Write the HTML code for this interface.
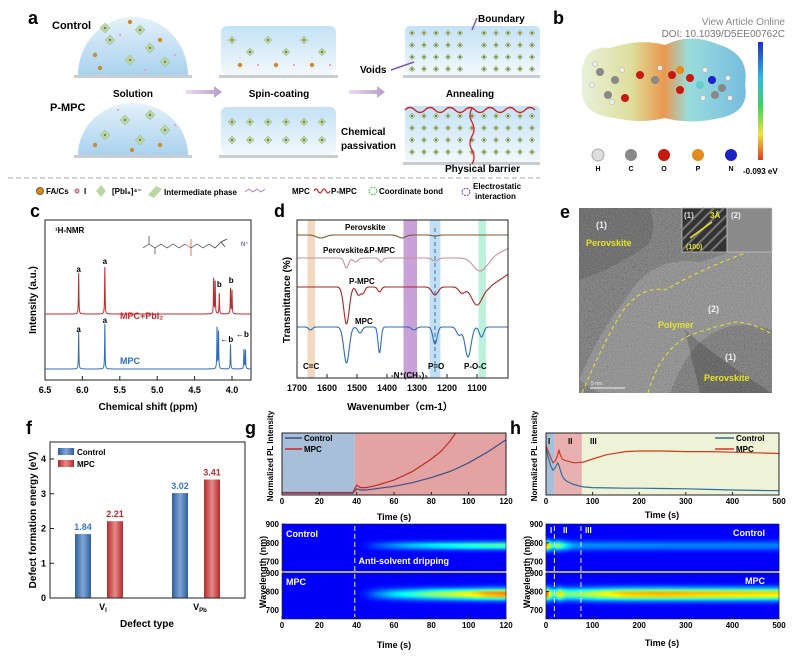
<!DOCTYPE html>
<html><head><meta charset="utf-8"><style>
body{margin:0;background:#fff;width:795px;height:657px;overflow:hidden}
svg text{font-family:"Liberation Sans",Arial,sans-serif}
.b{font-weight:bold}
</style></head><body>
<svg id="fig" width="795" height="657" viewBox="0 0 795 657" xmlns="http://www.w3.org/2000/svg">
<defs>
<linearGradient id="dome" x1="0" y1="0" x2="0" y2="1"><stop offset="0" stop-color="#e4f1fa"/><stop offset="1" stop-color="#a9d2ee"/></linearGradient>
<linearGradient id="film" x1="0" y1="0" x2="0" y2="1"><stop offset="0" stop-color="#c4e2f5"/><stop offset="1" stop-color="#f2f8fc"/></linearGradient>
<linearGradient id="arrowg" x1="0" y1="0" x2="1" y2="0"><stop offset="0" stop-color="#e8dcef"/><stop offset="1" stop-color="#b79cc9"/></linearGradient>
<linearGradient id="cbar" x1="0" y1="0" x2="0" y2="1"><stop offset="0" stop-color="#1b2bd0"/><stop offset="0.3" stop-color="#2fb8e8"/><stop offset="0.55" stop-color="#3fd65a"/><stop offset="0.78" stop-color="#f0e040"/><stop offset="1" stop-color="#e43a1e"/></linearGradient>
<linearGradient id="surfx" x1="0" y1="0" x2="1" y2="0"><stop offset="0" stop-color="#e4eed5"/><stop offset="0.3" stop-color="#d8d98a"/><stop offset="0.5" stop-color="#e6862f"/><stop offset="0.65" stop-color="#86d6d6"/><stop offset="1" stop-color="#5fb0d8"/></linearGradient>
<linearGradient id="barBlue" x1="0" y1="0" x2="1" y2="0"><stop offset="0" stop-color="#2e5e9e"/><stop offset="0.5" stop-color="#7fa6d4"/><stop offset="1" stop-color="#2e5e9e"/></linearGradient>
<linearGradient id="barRed" x1="0" y1="0" x2="1" y2="0"><stop offset="0" stop-color="#b52a2a"/><stop offset="0.5" stop-color="#e58a8a"/><stop offset="1" stop-color="#b52a2a"/></linearGradient>
<filter id="gnoise"><feTurbulence type="fractalNoise" baseFrequency="0.7" numOctaves="2" seed="7" result="t"/><feColorMatrix in="t" type="matrix" values="0.33 0.33 0.33 0 0  0.33 0.33 0.33 0 0  0.33 0.33 0.33 0 0  0 0 0 0 1"/></filter>
<clipPath id="clipG"><rect x="282" y="433" width="224" height="62"/></clipPath>
<clipPath id="clipE"><rect x="579" y="208" width="193" height="185"/></clipPath>
</defs>

<g>
<text x="28" y="24" font-size="18" class="b">a</text>
<text x="52" y="29" font-size="11" class="b">Control</text>
<text x="50" y="111" font-size="11" class="b">P-MPC</text>
<path d="M78 75 A55 58 0 0 1 188 75 Z" fill="url(#dome)"/>
<rect x="74" y="75" width="118" height="3" fill="#c8cdd2"/>
<path d="M78 155 A55 52 0 0 1 188 155 Z" fill="url(#dome)"/>
<rect x="74" y="155" width="118" height="3" fill="#c8cdd2"/>
<text x="133" y="97" font-size="10" class="b" text-anchor="middle">Solution</text>
<rect x="221" y="26" width="115" height="49" rx="6" fill="url(#film)"/>
<rect x="219" y="75" width="119" height="3" fill="#c8cdd2"/>
<rect x="221" y="107" width="115" height="48" rx="6" fill="url(#film)"/>
<rect x="219" y="155" width="119" height="3" fill="#c8cdd2"/>
<text x="279" y="97" font-size="10" class="b" text-anchor="middle">Spin-coating</text>
<path d="M186 90 h28 v-4 l8 6 l-8 6 v-4 h-28 Z" fill="url(#arrowg)"/>
<path d="M349 90 h28 v-4 l8 6 l-8 6 v-4 h-28 Z" fill="url(#arrowg)"/>
<rect x="405" y="26" width="135" height="49" rx="5" fill="url(#film)"/>
<rect x="403" y="75" width="137" height="3" fill="#c8cdd2"/>
<rect x="405" y="106" width="135" height="56" rx="4" fill="url(#film)"/>
<rect x="403" y="162" width="137" height="3" fill="#c8cdd2"/>
<text x="470" y="97" font-size="10" class="b" text-anchor="middle">Annealing</text>
<text x="478" y="22" font-size="10" class="b">Boundary</text>
<path d="M472 30 L477 18" stroke="#7b58b0" stroke-width="1.5"/>
<text x="360" y="73" font-size="10" class="b">Voids</text>
<path d="M391 70 L414 62" stroke="#7b58b0" stroke-width="1.5"/>
<text x="341" y="135" font-size="10" class="b">Chemical</text>
<text x="341" y="149" font-size="10" class="b">passivation</text>
<text x="445" y="172" font-size="10" class="b">Physical barrier</text>
<g id="aDeco"></g>
<line x1="8" y1="178" x2="540" y2="178" stroke="#aaa" stroke-dasharray="5 3"/>
<g font-size="8" class="b">
<circle cx="40" cy="191" r="3.5" fill="#d08a2c" stroke="#8a5a1a"/>
<text x="46" y="194">FA/Cs</text>
<circle cx="77" cy="191" r="2" fill="#e7b0c0" stroke="#c05070"/>
<text x="84" y="194">I</text>
<path d="M96 191 l5 -6 l5 6 l-5 6 Z" fill="#b9d7a2"/>
<text x="112" y="194">[PbI₆]⁴⁻</text>
<path d="M148 195 l8 -9 l6 3 l-8 9 Z" fill="#b9d7a2"/>
<text x="164" y="195">Intermediate phase</text>
<path d="M245 192 l4 -3 l4 3 l4 -3 l4 3 l4 -3" stroke="#a58" fill="none" stroke-width="0.7"/>
<text x="292" y="194">MPC</text>
<path d="M314 191 q2 -4 4 0 q2 4 4 0 q2 -4 4 0 q2 4 4 0" stroke="#d22" fill="none" stroke-width="1.2"/>
<text x="331" y="194">P-MPC</text>
<ellipse cx="373" cy="191" rx="4" ry="3.5" fill="none" stroke="#3c3" stroke-dasharray="2 1"/>
<text x="379" y="194">Coordinate bond</text>
<ellipse cx="466" cy="192" rx="4" ry="3.5" fill="none" stroke="#63c" stroke-dasharray="2 1"/>
<text x="473" y="189">Electrostatic</text>
<text x="475" y="199">interaction</text>
</g>
</g>

<g>
<text x="553" y="24" font-size="18" class="b">b</text>
<text x="785" y="25" font-size="10" fill="#888" text-anchor="end">View Article Online</text>
<text x="785" y="37" font-size="10" fill="#777" text-anchor="end">DOI: 10.1039/D5EE00762C</text>
<path d="M582 70 Q585 45 610 48 Q640 38 665 45 Q690 32 720 45 Q750 55 745 85 Q750 112 720 118 Q690 125 665 118 Q640 124 615 118 Q585 115 582 95 Z" fill="url(#surfx)" opacity="0.85"/>
<g id="bAtoms"></g>
<rect x="758" y="42" width="5" height="118" fill="url(#cbar)"/>
<text x="743" y="174" font-size="8" font-family="Liberation Serif" class="b">-0.093 eV</text>
<g font-size="7" font-family="Liberation Serif" class="b" text-anchor="middle">
<circle cx="598" cy="155" r="6" fill="#ddd" stroke="#aaa"/><text x="598" y="171">H</text>
<circle cx="631" cy="155" r="6" fill="#888"/><text x="631" y="171">C</text>
<circle cx="664" cy="155" r="6" fill="#c8190f"/><text x="664" y="171">O</text>
<circle cx="698" cy="155" r="6" fill="#e58a1d"/><text x="698" y="171">P</text>
<circle cx="731" cy="155" r="6" fill="#1a22c8"/><text x="731" y="171">N</text>
</g>
</g>

<g>
<text x="30" y="217" font-size="18" class="b">c</text>
<rect x="45" y="220" width="206" height="160" fill="none" stroke="#222"/>
<g id="cPlot"></g>
<text x="55" y="233" font-size="8" class="b">¹H-NMR</text>
<g stroke="#333" fill="none" stroke-width="0.7">
<path d="M143 248 l6 -4 l0 -8 M149 244 l6 4 l0 6 M155 248 l6 -4 l6 4 l6 -4 l6 4 l6 -4"/>
<path d="M185 244 l6 4" stroke="#e33"/><path d="M191 248 l0 -9 M191 248 l0 8" stroke="#e33"/>
<path d="M191 248 l6 -4 l6 4 l6 -4 l6 4 l6 -6 M221 242 l6 -3 M221 242 l4 5" />
</g>
<text x="241" y="246" font-size="6" fill="#22a">N⁺</text>
<text x="120" y="319" font-size="9" class="b" fill="#c0282a">MPC+PbI₂</text>
<text x="120" y="364" font-size="9" class="b" fill="#2f6db5">MPC</text>
<text x="148" y="410" font-size="10" class="b" text-anchor="middle">Chemical shift (ppm)</text>
<text x="0" y="0" font-size="10" class="b" text-anchor="middle" transform="translate(36 300) rotate(-90)">Intensity (a.u.)</text>
</g>

<g>
<text x="274" y="217" font-size="18" class="b">d</text>
<g id="dPlot"></g>
<rect x="297" y="220" width="211" height="158" fill="none" stroke="#222"/>
<text x="400" y="410" font-size="10" class="b" text-anchor="middle">Wavenumber（cm-1）</text>
<text x="0" y="0" font-size="10" class="b" text-anchor="middle" transform="translate(290 300) rotate(-90)">Transmittance (%)</text>
<g font-size="8" class="b">
<text x="345" y="230">Perovskite</text>
<text x="323" y="253">Perovskite&amp;P-MPC</text>
<text x="349" y="284">P-MPC</text>
<text x="355" y="324">MPC</text>
<text x="303" y="369">C=C</text>
<text x="391" y="378">-N⁺(CH₃)₃</text>
<text x="428" y="369">P=O</text>
<text x="464" y="369">P-O-C</text>
</g>
</g>

<g>
<text x="560" y="218" font-size="18" class="b">e</text>
<g clip-path="url(#clipE)">
<rect x="579" y="208" width="193" height="185" fill="#3c3c3c" />
<rect x="579" y="208" width="193" height="185" filter="url(#gnoise)" opacity="0.55"/>
<path d="M579 380 Q600 330 625 300 Q650 255 700 262 Q740 250 772 235 L772 330 Q740 320 720 330 Q690 340 670 393 L600 393 Z" fill="#fff" opacity="0.15"/>
<path d="M579 208 L650 208 Q660 240 640 250 Q610 270 579 280 Z" fill="#000" opacity="0.12"/>
<path d="M685 330 Q720 360 772 393 L700 393 Z" fill="#000" opacity="0.18"/>
</g>
<path d="M582 393 Q600 350 620 315 Q640 285 665 290 Q700 270 740 255 Q760 245 772 240" fill="none" stroke="#e8e32a" stroke-width="1" stroke-dasharray="4 3"/>
<path d="M648 393 Q660 350 690 335 Q720 325 735 322 Q750 322 770 333" fill="none" stroke="#e8e32a" stroke-width="1" stroke-dasharray="4 3"/>
<rect x="682" y="208" width="45" height="44" fill="#333" stroke="#ccc" stroke-width="0.7"/>
<g stroke="#777" stroke-width="2">
<path d="M682 230 L704 208 M682 240 L714 208 M682 250 L724 208 M690 252 L727 215 M700 252 L727 225 M710 252 L727 235"/>
</g>
<path d="M690 238 L712 222" stroke="#e8e32a" stroke-width="1.5"/>
<rect x="727" y="208" width="45" height="44" fill="#8a8a8a" stroke="#ccc" stroke-width="0.7"/>
<g font-size="8" class="b">
<text x="684" y="218" fill="#ddd">(1)</text>
<text x="710" y="218" fill="#e8e32a">3Å</text>
<text x="686" y="249" fill="#e8e32a" font-size="7">(100)</text>
<text x="731" y="218" fill="#eee">(2)</text>
<text x="596" y="228" fill="#eee" font-size="9">(1)</text>
<text x="586" y="246" fill="#e8e32a" font-size="9">Perovskite</text>
<text x="708" y="312" fill="#eee" font-size="9">(2)</text>
<text x="658" y="328" fill="#e8e32a" font-size="9">Polymer</text>
<text x="725" y="360" fill="#eee" font-size="9">(1)</text>
<text x="704" y="381" fill="#e8e32a" font-size="9">Perovskite</text>
</g>
<line x1="590" y1="388" x2="625" y2="388" stroke="#eee" stroke-width="1"/>
<text x="591" y="385" font-size="5" fill="#eee">5 nm</text>
</g>

<g>
<text x="26" y="434" font-size="18" class="b">f</text>
<g id="fPlot"></g>
<rect x="50" y="442" width="195" height="156" fill="none" stroke="#222"/>
<rect x="58" y="448" width="16" height="7" fill="url(#barBlue)"/>
<text x="77" y="455" font-size="8" class="b">Control</text>
<rect x="58" y="460" width="16" height="7" fill="url(#barRed)"/>
<text x="77" y="467" font-size="8" class="b">MPC</text>
<text x="147" y="627" font-size="10" class="b" text-anchor="middle">Defect type</text>
<text x="0" y="0" font-size="10" class="b" text-anchor="middle" transform="translate(36 520) rotate(-90)">Defect formation energy (eV)</text>
</g>

<g>
<text x="245" y="434" font-size="18" class="b">g</text>
<g id="gPlot"></g>
<text x="394" y="520" font-size="9" class="b" text-anchor="middle">Time (s)</text>
<text x="394" y="648" font-size="9" class="b" text-anchor="middle">Time (s)</text>
<text x="0" y="0" font-size="8" class="b" text-anchor="middle" transform="translate(273 456) rotate(-90)">Normalized PL Intensity</text>
<text x="0" y="0" font-size="9" class="b" text-anchor="middle" transform="translate(266 572) rotate(-90)">Wavelength (nm)</text>
</g>

<g>
<text x="510" y="434" font-size="18" class="b">h</text>
<g id="hPlot"></g>
<text x="662" y="518" font-size="9" class="b" text-anchor="middle">Time (s)</text>
<text x="662" y="646" font-size="9" class="b" text-anchor="middle">Time (s)</text>
<text x="0" y="0" font-size="8" class="b" text-anchor="middle" transform="translate(537 456) rotate(-90)">Normalized PL intensity</text>
<text x="0" y="0" font-size="9" class="b" text-anchor="middle" transform="translate(530 572) rotate(-90)">Wavelength (nm)</text>
</g>
</svg>
<script>
// c: NMR peaks
var nmrRedPos=[6.05,5.70,4.245,4.225,4.17,4.02,4.00];
var nmrRedH=[4.1,4.8,3.6,3.3,2.1,2.6,2.4];
var nmrBluePos=[6.05,5.70,4.20,4.18,4.02,3.84,3.82];
var nmrBlueH=[3.8,4.6,4.2,3.8,2.5,2.0,1.9];
var nmrTicks=[6.5,6.0,5.5,5.0,4.5,4.0];
// d: FTIR dips
var irPerovPos=[1620,1350,1240];
var irPerovDepth=[0.3,0.3,0.1];
var irPerovW=[15,12,10];
var irPPPos=[1535,1505,1420,1240,1090];
var irPPDepth=[1.0,0.4,0.4,0.3,1.3];
var irPPW=[7,8,6,10,22];
var irPMPCPos=[1535,1495,1480,1425,1240,1150,1100];
var irPMPCDepth=[3.7,0.8,0.6,0.5,0.8,0.6,1.8];
var irPMPCW=[9,7,6,6,10,10,18];
var irMPCPos=[1655,1535,1490,1425,1310,1240,1160,1130,1085];
var irMPCDepth=[0.3,3.6,0.6,2.6,0.3,1.7,0.8,3.0,1.0];
var irMPCW=[6,9,7,5,8,7,8,10,7];
var irTicks=[1700,1600,1500,1400,1300,1200,1100];
// f: bars
var defectCats=["V_I","V_Pb"];
var controlE=[1.84,3.02];
var mpcE=[2.21,3.41];
var fTicks=[0,1,2,3,4];
// g
var gTime=[0,10,20,30,38,40,42,45,50,60,70,80,85,90,93,100,110,120];
var gCtrlPL=[0.03,0.03,0.03,0.03,0.03,0.10,0.08,0.08,0.10,0.14,0.20,0.28,0.33,0.38,0.42,0.52,0.69,0.89];
var gMpcPL=[0.04,0.04,0.04,0.04,0.04,0.16,0.12,0.12,0.15,0.24,0.38,0.58,0.70,0.87,1.0,1.3,1.6,1.9];
var gMapTime=[0,40,45,50,60,70,80,90,100,110,120];
var gMapCtrl=[0,0,0.03,0.1,0.2,0.28,0.33,0.38,0.42,0.45,0.47];
var gMapMpc=[0,0,0.05,0.15,0.3,0.4,0.52,0.6,0.68,0.8,0.85];
var gTicks=[0,20,40,60,80,100,120];
// h
var hTime=[0,5,10,15,20,25,28,30,35,40,45,60,80,100,130,170,200,250,300,350,400,450,500];
var hCtrlPL=[0.77,0.60,0.47,0.40,0.44,0.52,0.48,0.42,0.30,0.25,0.22,0.17,0.13,0.12,0.115,0.11,0.11,0.105,0.10,0.09,0.08,0.075,0.07];
var hMpcPL=[0.80,0.70,0.60,0.52,0.55,0.64,0.73,0.66,0.58,0.56,0.55,0.52,0.53,0.58,0.65,0.70,0.71,0.71,0.70,0.70,0.69,0.68,0.67];
var hMapTime=[0,5,10,18,25,30,35,45,60,80,120,170,250,350,500];
var hMapCtrl=[0.85,0.78,0.55,0.4,0.55,0.52,0.45,0.32,0.22,0.2,0.19,0.19,0.18,0.18,0.18];
var hMapMpc=[0.9,0.85,0.6,0.45,0.55,0.8,0.6,0.5,0.5,0.55,0.65,0.75,0.78,0.75,0.72];
var hTicks=[0,100,200,300,400,500];
var hRegions=[0,18,77,500];

var FIG=document.getElementById('fig');
var SVGNS=FIG.namespaceURI;
var DEFS=FIG.getElementsByTagName('defs')[0];
var gradId=0;
function mk(tag,attrs,par){var e=document.createElementNS(SVGNS,tag);for(var k in attrs){e.setAttribute(k,attrs[k]);}(par||FIG).appendChild(e);return e;}
function interp(xs,ys,x){if(x<=xs[0])return ys[0];for(var i=1;i<xs.length;i++){if(x<=xs[i]){var f=(x-xs[i-1])/(xs[i]-xs[i-1]);return ys[i-1]+f*(ys[i]-ys[i-1]);}}return ys[ys.length-1];}
function clamp01(x){return Math.max(0,Math.min(1,x));}
function jet(v){var r=Math.round(255*clamp01(1.5-Math.abs(4*v-3)));var g=Math.round(255*clamp01(1.5-Math.abs(4*v-2)));var b=Math.round(255*clamp01(1.5-Math.abs(4*v-1)));return 'rgb('+r+','+g+','+b+')';}

// ---------- panel c ----------
try{
var cG=document.getElementById('cPlot');
var cxs=function(p){return 45+(6.5-p)*74.8;};
function nmrPath(pos,hh,base){var d="";for(var p=6.5;p>=3.745;p-=0.0015){var v=0;for(var i=0;i<pos.length;i++){var g=0.0035;v+=hh[i]*g*g/((p-pos[i])*(p-pos[i])+g*g);}d+=(d?"L":"M")+cxs(p).toFixed(2)+" "+(base-v*10).toFixed(2);}return d;}
var cRed=mk('path',{d:nmrPath(nmrRedPos,nmrRedH,314),fill:'none',stroke:'#c0282a','stroke-width':1},cG);


var cBlue=mk('path',{d:nmrPath(nmrBluePos,nmrBlueH,369),fill:'none',stroke:'#2f6db5','stroke-width':1},cG);


[[6.05,274,'a'],[5.70,266,'a'],[4.17,289,'b'],[4.01,285,'b'],[6.05,334,'a'],[5.70,325,'a'],[4.07,344,'\u2190b'],[3.86,339,'\u2190b']].forEach(function(a){
 var t=mk('text',{x:cxs(a[0]),y:a[1]-2,'font-size':8,'font-weight':'bold','text-anchor':'middle'},cG);t.textContent=a[2];
 
 
});
nmrTicks.forEach(function(v){var l=mk('line',{x1:cxs(v),x2:cxs(v),y1:380,y2:376,stroke:'#222'},cG);
 
 
 var t=mk('text',{x:cxs(v),y:393,'font-size':9,'font-weight':'bold','text-anchor':'middle'},cG);t.textContent=v.toFixed(1);
 
 });
}catch(err){console.log(err);}

// ---------- panel d ----------
try{
var dG=document.getElementById('dPlot');
var dxs=function(w){return 297+(1700-w)*0.3;};
[[1665,1640,'#f3d9c0'],[1345,1300,'#c9a0d8'],[1258,1222,'#bfe0f6'],[1095,1070,'#bff0dc']].forEach(function(b){
 var r=mk('rect',{x:dxs(b[0]),y:220,width:dxs(b[1])-dxs(b[0]),height:158,fill:b[2]},dG);
 
 });
var dash=mk('line',{x1:dxs(1240),x2:dxs(1240),y1:228,y2:372,stroke:'#4a6a8a','stroke-dasharray':'4 3'},dG);


function irPath(pos,dep,w,base,endS){var d="";for(var x=1700;x>=997;x-=2){var v=0;for(var i=0;i<pos.length;i++){v+=dep[i]*Math.exp(-Math.pow((x-pos[i])/w[i],2)/2);}var y=base+v*10;if(endS&&x<1060){y-=(1060-x)*endS;}d+=(d?"L":"M")+dxs(x).toFixed(1)+" "+y.toFixed(1);}return d;}
[[irPerovPos,irPerovDepth,irPerovW,235,'#7a5a3a','ftir-perovskite',0],[irPPPos,irPPDepth,irPPW,258,'#c88d9e','ftir-perovskite-pmpc',0.15],[irPMPCPos,irPMPCDepth,irPMPCW,287,'#b02020','ftir-pmpc',0.2],[irMPCPos,irMPCDepth,irMPCW,327,'#2f6db5','ftir-mpc',0]].forEach(function(s){
 var p=mk('path',{d:irPath(s[0],s[1],s[2],s[3],s[6]),fill:'none',stroke:s[4],'stroke-width':1.1},dG);
 
 });
irTicks.forEach(function(v){var l=mk('line',{x1:dxs(v),x2:dxs(v),y1:378,y2:374,stroke:'#222'},dG);
 
 
 var t=mk('text',{x:dxs(v),y:391,'font-size':9,'font-weight':'bold','text-anchor':'middle'},dG);t.textContent=v;
 
 });
}catch(err){console.log(err);}

// ---------- panel f ----------
try{
var fG=document.getElementById('fPlot');
var fy=function(v){return 598-v*34.75;};
var catX=[99,196];
defectCats.forEach(function(c,i){
 var b1=mk('rect',{x:catX[i]-24,y:fy(controlE[i]),width:16,height:598-fy(controlE[i]),fill:'url(#barBlue)'},fG);
 
 
 var b2=mk('rect',{x:catX[i]+8,y:fy(mpcE[i]),width:16,height:598-fy(mpcE[i]),fill:'url(#barRed)'},fG);
 
 
 var t1=mk('text',{x:catX[i]-16,y:fy(controlE[i])-4,'font-size':9,'font-weight':'bold',fill:'#3a78c0','text-anchor':'middle'},fG);t1.textContent=controlE[i].toFixed(2);
 
 
 var t2=mk('text',{x:catX[i]+16,y:fy(mpcE[i])-4,'font-size':9,'font-weight':'bold',fill:'#c0282a','text-anchor':'middle'},fG);t2.textContent=mpcE[i].toFixed(2);
 
 
 var parts=c.split('_');
 var ct=mk('text',{x:catX[i]+4,y:610,'font-size':9,'font-weight':'bold','text-anchor':'middle'},fG);
 
 
 ct.appendChild(document.createTextNode(parts[0]));
 var sub=document.createElementNS(SVGNS,'tspan');sub.setAttribute('font-size','6');sub.setAttribute('dy','2');sub.textContent=parts[1];ct.appendChild(sub);
});
fTicks.forEach(function(v){var l=mk('line',{x1:50,x2:54,y1:fy(v),y2:fy(v),stroke:'#222'},fG);
 
 
 var t=mk('text',{x:46,y:fy(v)+3,'font-size':9,'font-weight':'bold','text-anchor':'end'},fG);t.textContent=v;
 
 });
}catch(err){console.log(err);}

// ---------- shared helpers ----------
function heatmap(par,x0,x1,y0,y1,tmax,times,vals,sigma,step,nm){
 var bg=mk('rect',{x:x0,y:y0,width:x1-x0,height:y1-y0,fill:jet(0.12)},par);
 
 
 var sx=function(t){return x0+t/tmax*(x1-x0);};
 for(var t=0;t<tmax;t+=step){
  var I=interp(times,vals,t+step/2);
  if(I<0.01)continue;
  var gid='hg'+(gradId++);
  var lg=mk('linearGradient',{id:gid,x1:0,y1:0,x2:0,y2:1},DEFS);
  for(var k=0;k<=16;k++){var wl=900-k*250/16;var v=I*Math.exp(-Math.pow((wl-785)/sigma,2)/2);mk('stop',{offset:k/16,'stop-color':jet(0.12+0.78*v)},lg);}
  var r=mk('rect',{x:sx(t)-0.3,y:y0,width:sx(t+step)-sx(t)+0.6,height:y1-y0,fill:'url(#'+gid+')'},par);
  
  
 }
}
function wlAxis(par,x,y0,y1){[900,800,700].forEach(function(w){var y=y0+(900-w)/250*(y1-y0);
 var t=mk('text',{x:x-3,y:y+3,'font-size':8,'font-weight':'bold','text-anchor':'end'},par);t.textContent=w;
 
 
 var l=mk('line',{x1:x,x2:x+3,y1:y,y2:y,stroke:'#222'},par);
 
 });}
function timeAxis(par,x0,x1,y,tmax,ticks){ticks.forEach(function(v){var x=x0+v/tmax*(x1-x0);
 var l=mk('line',{x1:x,x2:x,y1:y,y2:y-3,stroke:'#222'},par);
 
 
 var t=mk('text',{x:x,y:y+9,'font-size':8,'font-weight':'bold','text-anchor':'middle'},par);t.textContent=v;
 
 });}
function linePath(times,vals,x0,x1,y0,y1,tmax){return times.map(function(t,i){return (i?'L':'M')+(x0+t/tmax*(x1-x0)).toFixed(1)+' '+(y1-vals[i]*(y1-y0)).toFixed(1);}).join('');}

// ---------- panel g ----------
try{
var gG=document.getElementById('gPlot');
var gxs=function(t){return 282+t/120*224;};
var gr1=mk('rect',{x:282,y:433,width:gxs(39)-282,height:62,fill:'#a7bfd8'},gG);


var gr2=mk('rect',{x:gxs(39),y:433,width:506-gxs(39),height:62,fill:'#e3a3a3'},gG);


var gl1=mk('path',{d:linePath(gTime,gCtrlPL,282,506,433,495,120),fill:'none',stroke:'#3d4f8a','stroke-width':1.2,'clip-path':'url(#clipG)'},gG);


var gl2=mk('path',{d:linePath(gTime,gMpcPL,282,506,433,495,120),fill:'none',stroke:'#c0282a','stroke-width':1.2,'clip-path':'url(#clipG)'},gG);


var gfr=mk('rect',{x:282,y:433,width:224,height:62,fill:'none',stroke:'#222'},gG);


timeAxis(gG,282,506,495,120,gTicks);
[['Control','#3d4f8a',441],['MPC','#c0282a',452]].forEach(function(l){
 var ln=mk('line',{x1:285,x2:302,y1:l[2]-3,y2:l[2]-3,stroke:l[1],'stroke-width':1.5},gG);
 
 
 var t=mk('text',{x:304,y:l[2],'font-size':8,'font-weight':'bold'},gG);t.textContent=l[0];
 
 });
heatmap(gG,282,506,524,571,120,gMapTime,gMapCtrl,14,1.5,'g-control-heatmap');
heatmap(gG,282,506,573,619,120,gMapTime,gMapMpc,20,1.5,'g-mpc-heatmap');
var gsep=mk('rect',{x:282,y:571,width:224,height:2,fill:'#ddd'},gG);


[[524,571],[573,619]].forEach(function(r){var f=mk('rect',{x:282,y:r[0],width:224,height:r[1]-r[0],fill:'none',stroke:'#222','stroke-width':0.6},gG);
 
 
 wlAxis(gG,282,r[0],r[1]);});
timeAxis(gG,282,506,619,120,gTicks);
var gdl=mk('line',{x1:gxs(39),x2:gxs(39),y1:526,y2:617,stroke:'#eee','stroke-dasharray':'5 3','stroke-width':1},gG);


[['Control',286,537],['MPC',286,585],['Anti-solvent dripping',gxs(41),564]].forEach(function(l){var t=mk('text',{x:l[1],y:l[2],'font-size':9,'font-weight':'bold',fill:'#fff'},gG);t.textContent=l[0];
 
 });
}catch(err){console.log(err);}

// ---------- panel h ----------
try{
var hG=document.getElementById('hPlot');
var hxs=function(t){return 546+t/500*233;};
['#a7bfd8','#e8b0b0','#eef2d6'].forEach(function(c,i){var r=mk('rect',{x:hxs(hRegions[i]),y:433,width:hxs(hRegions[i+1])-hxs(hRegions[i]),height:62,fill:c},hG);
 
 });
['I','II','III'].forEach(function(s,i){var t=mk('text',{x:[548,568,590][i],y:444,'font-size':8,'font-weight':'bold','font-family':'Liberation Serif'},hG);t.textContent=s;
 
 });
var hl1=mk('path',{d:linePath(hTime,hCtrlPL,546,779,433,495,500),fill:'none',stroke:'#2f6f9a','stroke-width':1.2},hG);


var hl2=mk('path',{d:linePath(hTime,hMpcPL,546,779,433,495,500),fill:'none',stroke:'#cf3a20','stroke-width':1.2},hG);


var hfr=mk('rect',{x:546,y:433,width:233,height:62,fill:'none',stroke:'#222'},hG);


timeAxis(hG,546,779,495,500,hTicks);
[['Control','#2f6f9a',441],['MPC','#cf3a20',452]].forEach(function(l){
 var ln=mk('line',{x1:715,x2:734,y1:l[2]-3,y2:l[2]-3,stroke:l[1],'stroke-width':1.5},hG);
 
 
 var t=mk('text',{x:736,y:l[2],'font-size':8,'font-weight':'bold'},hG);t.textContent=l[0];
 
 });
heatmap(hG,546,779,524,571,500,hMapTime,hMapCtrl,17,2.5,'h-control-heatmap');
heatmap(hG,546,779,573,619,500,hMapTime,hMapMpc,22,2.5,'h-mpc-heatmap');
var hsep=mk('rect',{x:546,y:571,width:233,height:2,fill:'#ddd'},hG);


[[524,571],[573,619]].forEach(function(r){var f=mk('rect',{x:546,y:r[0],width:233,height:r[1]-r[0],fill:'none',stroke:'#222','stroke-width':0.6},hG);
 
 
 wlAxis(hG,546,r[0],r[1]);});
timeAxis(hG,546,779,619,500,hTicks);
[18,75].forEach(function(t){var l=mk('line',{x1:hxs(t),x2:hxs(t),y1:526,y2:617,stroke:'#eee','stroke-dasharray':'5 3'},hG);
 
 });
[['I',550,533],['II',563,533],['III',585,533]].forEach(function(l){var t=mk('text',{x:l[1],y:l[2],'font-size':8,'font-weight':'bold',fill:'#fff','font-family':'Liberation Serif'},hG);t.textContent=l[0];
 
 });
[['Control',536],['MPC',584]].forEach(function(l){var t=mk('text',{x:765,y:l[1],'font-size':9,'font-weight':'bold',fill:'#fff','text-anchor':'end'},hG);t.textContent=l[0];
 
 });
}catch(err){console.log(err);}

// ---------- decoration a / b ----------
try{
var aD=document.getElementById('aDeco');
function pbi(x,y,s){mk('path',{d:'M'+x+' '+(y-s)+' l'+s+' '+s+' l'+(-s)+' '+s+' l'+(-s)+' '+(-s)+' Z',fill:'#b9d7a2',stroke:'#8aa878','stroke-width':0.4},aD);mk('circle',{cx:x,cy:y,r:1.2,fill:'#8a7a50'},aD);}
function dot(x,y,big){mk('circle',{cx:x,cy:y,r:big?2.2:1.1,fill:big?'#d08a2c':'#e7a0b8'},aD);}
[[110,40],[150,48],[130,60],[165,62],[105,28],[140,30]].forEach(function(p){pbi(p[0],p[1],5);});
[[95,55],[120,35],[160,40],[175,55],[100,68],[145,70],[130,22]].forEach(function(p,i){dot(p[0],p[1],i%2==0);});
[[105,135],[140,140],[165,130],[125,120],[150,115]].forEach(function(p){pbi(p[0],p[1],5);});
[[95,145],[118,110],[160,145],[175,125],[132,150]].forEach(function(p,i){dot(p[0],p[1],i%2==0);});
for(var i=0;i<6;i++){pbi(232+i*18,40+(i%2)*12,4);dot(240+i*18,65,i%2==0);}
for(var i2=0;i2<6;i2++){pbi(232+i2*18,122,4);pbi(232+i2*18,140,4);}
for(var r=0;r<4;r++){for(var c=0;c<11;c++){if(c==5)continue;pbi(412+c*12,33+r*12,3);}}
for(var r2=0;r2<4;r2++){for(var c2=0;c2<11;c2++){pbi(412+c2*12,116+r2*12,3);}}
mk('path',{d:'M405 110 q5 -5 10 0 q5 5 10 0 q5 -5 10 0 q5 5 10 0 q5 -5 10 0 q5 5 10 0 q5 -5 10 0 q5 5 10 0 q5 -5 10 0 q5 5 10 0 q5 -5 10 0 q5 5 10 0 q5 -5 10 0 M472 108 q-4 8 0 14 q4 8 0 14 q-4 8 0 14 q4 8 0 14',fill:'none',stroke:'#d62020','stroke-width':1.3},aD);
var bA=document.getElementById('bAtoms');
[[600,72,'#888'],[615,80,'#888'],[608,95,'#888'],[640,75,'#c8190f'],[655,80,'#888'],[625,98,'#c8190f'],[672,75,'#c8190f'],[680,70,'#e58a1d'],[690,78,'#c8190f'],[680,90,'#c8190f'],[700,85,'#6cc'],[712,80,'#1a22c8'],[722,88,'#888'],[715,95,'#888']].forEach(function(a){
 var ci=mk('circle',{cx:a[0],cy:a[1],r:4,fill:a[2]},bA);
 
 });
[[595,64],[592,85],[612,102],[622,70],[660,68],[703,98],[728,78],[730,98],[705,70]].forEach(function(a){
 var ci=mk('circle',{cx:a[0],cy:a[1],r:2.5,fill:'#eee',stroke:'#999','stroke-width':0.4},bA);
 
 });
}catch(err){console.log(err);}
</script>
</body></html>
